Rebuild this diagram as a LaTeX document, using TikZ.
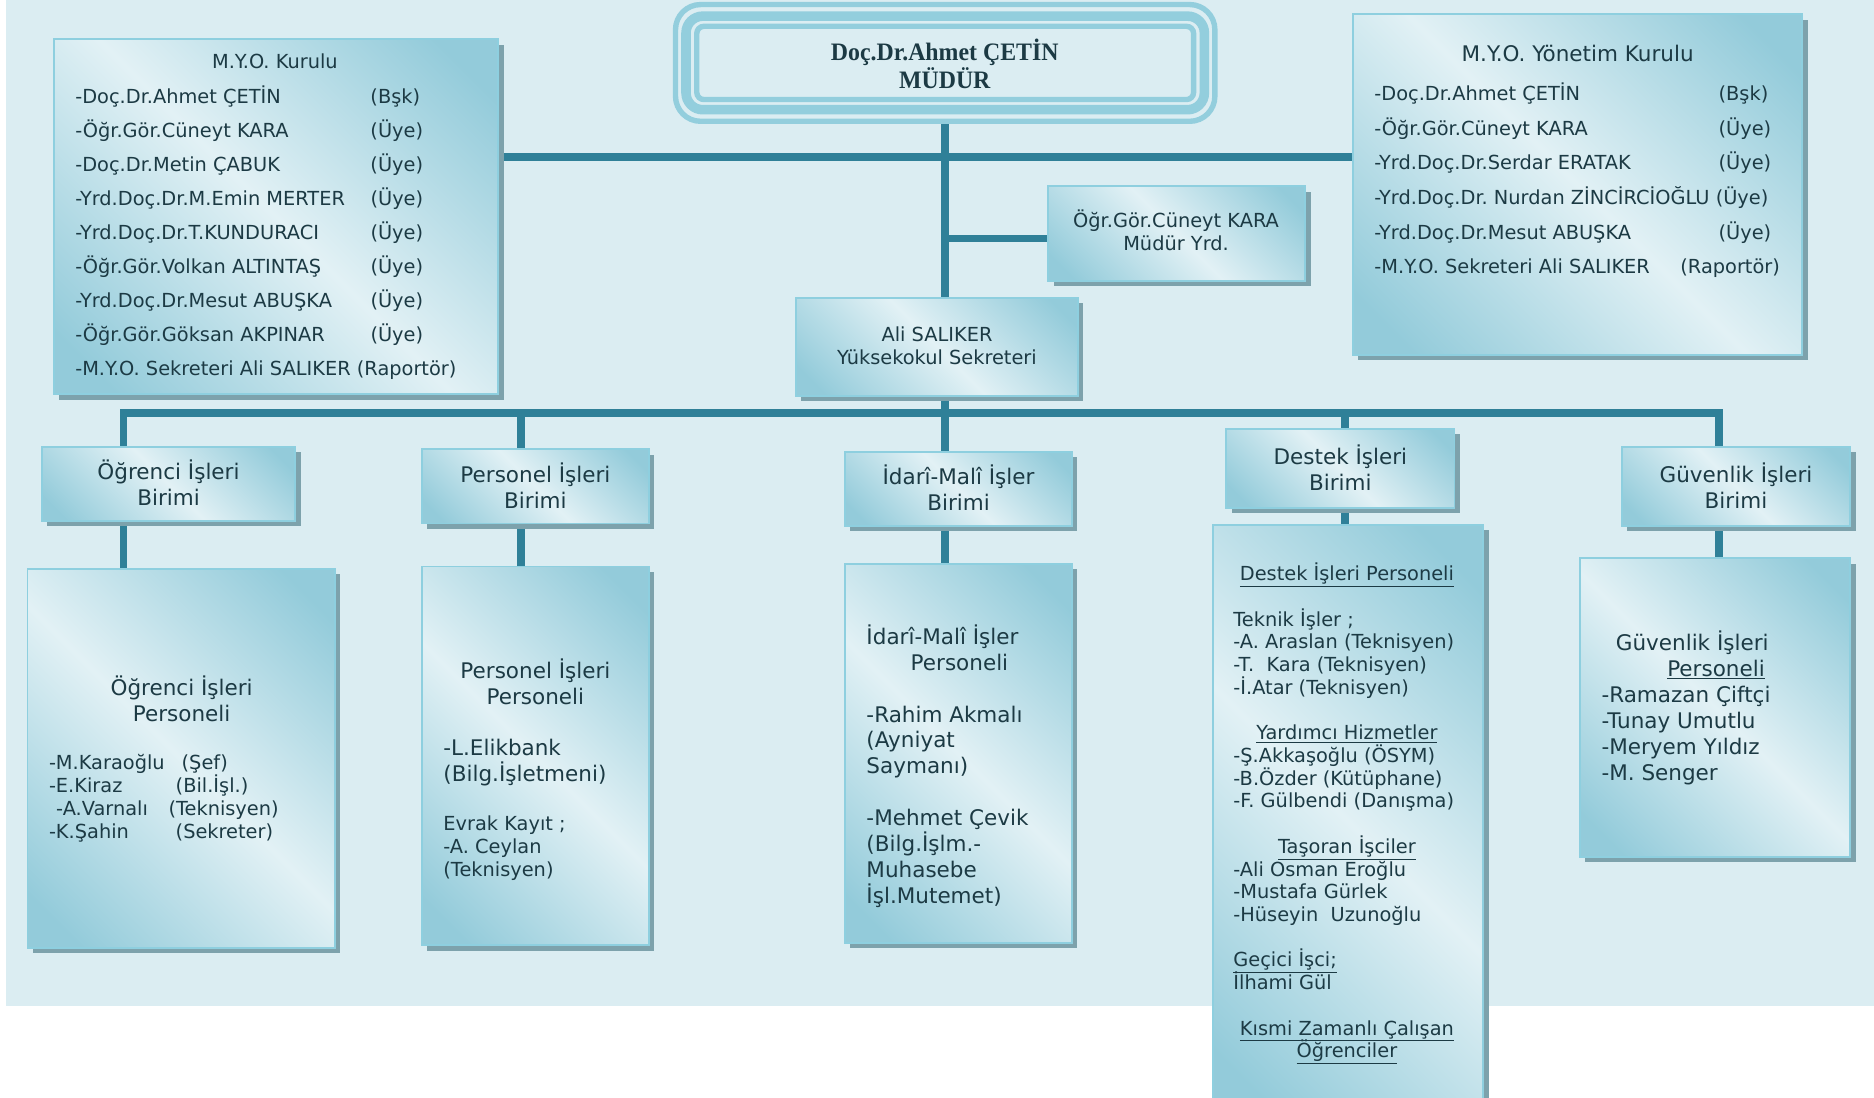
\documentclass[tikz,border=0pt]{standalone}
\usepackage{fontspec}
\setmainfont{DejaVu Sans}
\newfontfamily\mudurfont{Liberation Serif}[FakeStretch=0.95]
\usetikzlibrary{shadows,backgrounds,calc}
\frenchspacing
\definecolor{bgc}{HTML}{DBEDF2}
\definecolor{bdark}{HTML}{93CBDA}
\definecolor{blight}{HTML}{E2F1F5}
\definecolor{bord}{HTML}{8ECFDF}
\definecolor{shc}{HTML}{7DA2AC}
\definecolor{ccol}{HTML}{2F8098}
\definecolor{tcol}{HTML}{1C3A44}
\definecolor{fcol}{HTML}{93CEDD}
\pgfdeclarehorizontalshading{boxshade}{100bp}{color(0bp)=(bdark); color(20bp)=(bdark); color(50bp)=(blight); color(80bp)=(bdark); color(100bp)=(bdark)}
\newcommand\TC[1]{\vtop{\lineskiplimit=-100pt\let\\\cr\halign{\hfil##\hfil\cr#1\crcr}}}
\newcommand\TL[1]{\vtop{\lineskiplimit=-100pt\let\\\cr\halign{##\hfil\cr#1\crcr}}}
\newcommand\TCb[1]{\begin{tabular}[t]{@{}c@{}}\rule{0pt}{21pt}#1\end{tabular}}
\newcommand\ul[1]{\smash{\underline{#1}}}
\newcommand\mybox[7][]{\node[box,#1,minimum width={#5pt-#3pt},minimum height={#6pt-#4pt}] (#2) at ({(#3+#5)/2},{(#4+#6)/2}) {#7};}
\tikzset{
  box/.style={draw=bord, line width=1.6pt, shading=boxshade, shading angle=45,
    drop shadow={shadow xshift=4.5pt, shadow yshift=-4.5pt, fill=shc, opacity=1},
    inner sep=0pt, outer sep=0pt, text=tcol},
  conn/.style={draw=ccol, line width=6.6pt},
  txt/.style={text=tcol, inner sep=0pt, outer sep=0pt},
  fs/.style={font=\fontsize{16.2}{19}\selectfont},
  fl/.style={font=\fontsize{18}{21.8}\selectfont},
  ring/.style={draw=fcol}
}
\begin{document}
\begin{tikzpicture}[x=1pt,y=-1pt]
\useasboundingbox (0,0) rectangle (1568,918);
% director frame
\node[ring, line width=4.5pt, rounded corners=21pt, minimum width=451.3pt, minimum height=97.7pt, inner sep=0pt, outer sep=0pt] (mudur) at (790.85,52.65) {};
\draw[ring, line width=8pt, rounded corners=14pt] ($(mudur.north west)+(8.8,9.7)$) rectangle ($(mudur.south east)+(-8.8,-9.7)$);
\draw[ring, line width=4.5pt, rounded corners=6pt] ($(mudur.north west)+(17.8,18.2)$) rectangle ($(mudur.south east)+(-17.8,-18.2)$);
\node[txt, font=\mudurfont\bfseries\fontsize{21}{23}\selectfont, anchor=base] (mudT) at (790.5,51) {\TC{Doç.Dr.Ahmet ÇETİN\\MÜDÜR}};

% boards
\mybox{kurulu}{45}{33}{417}{330}{}
\node[txt,fs,anchor=base] (kurT) at (230,57.5) {M.Y.O. Kurulu};
\node[txt,font=\fontsize{16.2}{28.5}\selectfont,anchor=base west] (kurL) at (63,86.5) {\begin{tabular}[t]{@{}p{247pt}@{}l@{}}
-Doç.Dr.Ahmet ÇETİN & (Bşk)\\
-Öğr.Gör.Cüneyt KARA & (Üye)\\
-Doç.Dr.Metin ÇABUK & (Üye)\\
-Yrd.Doç.Dr.M.Emin MERTER & (Üye)\\
-Yrd.Doç.Dr.T.KUNDURACI & (Üye)\\
-Öğr.Gör.Volkan ALTINTAŞ & (Üye)\\
-Yrd.Doç.Dr.Mesut ABUŞKA & (Üye)\\
-Öğr.Gör.Göksan AKPINAR & (Üye)\\
\multicolumn{2}{@{}l@{}}{-M.Y.O. Sekreteri Ali SALIKER (Raportör)}
\end{tabular}};

\mybox{yonetim}{1132}{12}{1508}{297}{}
\node[txt,fl,anchor=base] (yonT) at (1320,51.5) {M.Y.O. Yönetim Kurulu};
\node[txt,font=\fontsize{16.2}{29}\selectfont,anchor=base west] (yonL) at (1150,84) {\begin{tabular}[t]{@{}p{288pt}@{}l@{}}
-Doç.Dr.Ahmet ÇETİN & (Bşk)\\
-Öğr.Gör.Cüneyt KARA & (Üye)\\
-Yrd.Doç.Dr.Serdar ERATAK & (Üye)\\
\multicolumn{2}{@{}l@{}}{-Yrd.Doç.Dr. Nurdan ZİNCİRCİOĞLU (Üye)}\\
-Yrd.Doç.Dr.Mesut ABUŞKA & (Üye)\\
\multicolumn{2}{@{}l@{}}{\makebox[256pt][l]{-M.Y.O. Sekreteri Ali SALIKER}(Raportör)}
\end{tabular}};

\mybox{yrd}{877}{156}{1092}{235}{}
\node[txt,fs,anchor=base] (yrdT) at (984,190.5) {\TC{Öğr.Gör.Cüneyt KARA\\Müdür Yrd.}};

\mybox{ali}{666}{249}{902}{331}{}
\node[txt,fs,anchor=base] (aliT) at (784,286) {\TC{Ali SALIKER\\Yüksekokul Sekreteri}};

% units
\mybox[fl]{ogrB}{35}{374}{247}{436}{\TCb{Öğrenci İşleri\\Birimi}}
\mybox[fl]{perB}{353}{376}{543}{438}{\TCb{Personel İşleri\\Birimi}}
\mybox[fl]{idaB}{707}{378}{897}{440}{\TCb{İdarî-Malî İşler\\Birimi}}
\mybox[fl]{desB}{1026}{359}{1217}{425}{\TCb{Destek İşleri\\Birimi}}
\mybox[fl]{guvB}{1357}{374}{1548}{440}{\TCb{Güvenlik İşleri\\Birimi}}

% staff boxes
\mybox{ogrP}{23}{476}{280}{793}{}
\node[txt,font=\fontsize{18}{22}\selectfont,anchor=base] (ogrT) at (152,582) {\TC{Öğrenci İşleri\\Personeli}};
\node[txt,font=\fontsize{16.2}{19.3}\selectfont,anchor=base west] (ogrL) at (41,643.5) {\TL{%
\makebox[111pt][l]{-M.Karaoğlu}(Şef)\\
\makebox[106pt][l]{-E.Kiraz}(Bil.İşl.)\\
\hspace{6pt}\makebox[94pt][l]{-A.Varnalı}(Teknisyen)\\
\makebox[106pt][l]{-K.Şahin}(Sekreter)}};

\mybox{perP}{353}{474}{543}{791}{}
\node[txt,font=\fontsize{18}{21.5}\selectfont,anchor=base] (perT) at (448,568) {\TC{Personel İşleri\\Personeli}};
\node[txt,font=\fontsize{18}{22}\selectfont,anchor=base west] (perL) at (371,632) {\TL{-L.Elikbank\\(Bilg.İşletmeni)}};
\node[txt,fs,anchor=base west] (perL2) at (371,695) {\TL{Evrak Kayıt ;\\-A. Ceylan\\(Teknisyen)}};

\mybox{idaP}{707}{472}{897}{789}{}
\node[txt,font=\fontsize{18}{21.7}\selectfont,anchor=base west] (idaL) at (725,539) {\TL{%
İdarî-Malî İşler\\
\hspace{37pt}Personeli\\
\\
-Rahim Akmalı\\
(Ayniyat\\
Saymanı)\\
\\
-Mehmet Çevik\\
(Bilg.İşlm.-\\
Muhasebe\\
İşl.Mutemet)}};

\mybox{desP}{1015}{439}{1241}{935}{}
\node[txt,fs,anchor=base west] (desL) at (1032,486) {\TL{%
\makebox[190pt]{\ul{Destek İşleri Personeli}}\\
\\
Teknik İşler ;\\
-A. Araslan (Teknisyen)\\
-T.\ \ Kara (Teknisyen)\\
-İ.Atar (Teknisyen)\\
\\
\makebox[190pt]{\ul{Yardımcı Hizmetler}}\\
-Ş.Akkaşoğlu (ÖSYM)\\
-B.Özder (Kütüphane)\\
-F. Gülbendi (Danışma)\\
\\
\makebox[190pt]{\ul{Taşoran İşciler}}\\
-Ali Osman Eroğlu\\
-Mustafa Gürlek\\
-Hüseyin\ \ Uzunoğlu\\
\\
\ul{Geçici İşci;}\\
İlhami Gül\\
\\
\makebox[190pt]{\ul{Kısmi Zamanlı Çalışan}}\\
\makebox[190pt]{\ul{Öğrenciler}}}};

\mybox{guvP}{1322}{467}{1548}{717}{}
\node[txt,font=\fontsize{18}{21.8}\selectfont,anchor=base west] (guvL) at (1340,544) {\TL{%
\hspace{12pt}Güvenlik İşleri\\
\hspace{55pt}\ul{Personeli}\\
-Ramazan Çiftçi\\
-Tunay Umutlu\\
-Meryem Yıldız\\
-M. Senger}};

% connector coordinates
\coordinate (hy) at (790.5,131);
\coordinate (yy) at (790.5,199.6);
\coordinate (d1) at (103.3,345.5);
\coordinate (d2) at (436,345.5);
\coordinate (d3) at (790.5,345.5);
\coordinate (d4) at (1125.6,345.5);
\coordinate (d5) at (1438.6,345.5);

\begin{scope}[on background layer]
\fill[bgc] (5,0) rectangle (1568,841.5);
\draw[conn] (mudur.south -| d3) -- (d3 |- ali.north);
\draw[conn] (d3 |- ali.south) -- (d3 |- idaB.north);
\draw[conn] (kurulu.east |- hy) -- (yonetim.west |- hy);
\draw[conn] (yy) -- (yrd.west |- yy);
\draw[conn, line join=miter] (d1 |- ogrB.north) -- (d1) -- (d5) -- (d5 |- guvB.north);
\draw[conn] (d2) -- (d2 |- perB.north);
\draw[conn] (d4) -- (d4 |- desB.north);
\draw[conn] (d1 |- ogrB.south) -- (d1 |- ogrP.north);
\draw[conn] (d2 |- perB.south) -- (d2 |- perP.north);
\draw[conn] (d3 |- idaB.south) -- (d3 |- idaP.north);
\draw[conn] (d4 |- desB.south) -- (d4 |- desP.north);
\draw[conn] (d5 |- guvB.south) -- (d5 |- guvP.north);
\end{scope}
\end{tikzpicture}
\end{document}
